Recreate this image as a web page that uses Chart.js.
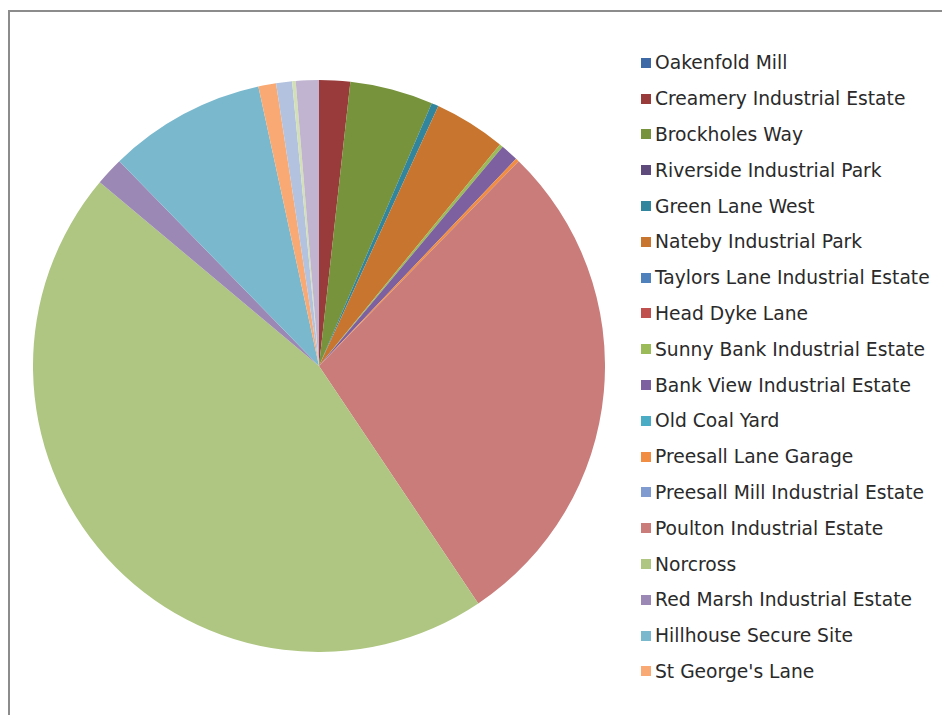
<!DOCTYPE html>
<html>
<head>
<meta charset="utf-8">
<script src="https://cdn.jsdelivr.net/npm/chart.js@4/dist/chart.umd.min.js"></script>
<style>
  html, body { margin: 0; padding: 0; background: #fff; overflow: hidden; }
  body { width: 942px; height: 715px; position: relative; }
  #frame {
    position: absolute; left: 8px; top: 10px;
    width: 1000px; height: 800px;
    border: 2px solid #8c8c8c; box-sizing: border-box;
  }
  #pieBox { position: absolute; left: 33px; top: 80px; width: 572px; height: 572px; }
  #legend {
    position: absolute; left: 641px; top: 45px;
    font-family: "DejaVu Sans", Verdana, sans-serif; font-size: 18.7px; color: #2a2a2a;
  }
  #legend .item { height: 35.8px; display: flex; align-items: center; white-space: nowrap; }
  #legend .swatch { width: 10px; height: 10px; margin-right: 4px; flex: none; }
</style>
</head>
<body>
<div id="frame"></div>
<div id="pieBox"><canvas id="siteChart"></canvas></div>
<div id="legend"></div>
<script>
// sites, in drawing order (clockwise from 12 o'clock)
const sites = [
  'Oakenfold Mill', 'Creamery Industrial Estate', 'Brockholes Way',
  'Riverside Industrial Park', 'Green Lane West', 'Nateby Industrial Park',
  'Taylors Lane Industrial Estate', 'Head Dyke Lane', 'Sunny Bank Industrial Estate',
  'Bank View Industrial Estate', 'Old Coal Yard', 'Preesall Lane Garage',
  'Preesall Mill Industrial Estate', 'Poulton Industrial Estate', 'Norcross',
  'Red Marsh Industrial Estate', 'Hillhouse Secure Site', "St George's Lane",
  'Site 19', 'Site 20', 'Site 21'
];

// share of total per site (%)
const shares = [
  0, 1.75, 4.7,
  0, 0.4, 4.05,
  0, 0, 0.2,
  1.0, 0, 0.2,
  0, 28.3, 45.5,
  1.6, 8.9, 1.0,
  0.9, 0.2, 1.3
];

const sliceColors = [
  '#3d6aa6', '#983b3a', '#77933c',
  '#5f4a7c', '#31859c', '#c7752f',
  '#4f81bd', '#c0504d', '#9bbb59',
  '#7d609f', '#4bacc6', '#f08d42',
  '#7f9bcf', '#c97c7a', '#aec681',
  '#9c88b5', '#7ab8ce', '#f9aa74',
  '#b3c2de', '#d3e0b5', '#c0b4d0'
];

// only the first 18 entries fit in the legend
const LEGEND_COUNT = 18;

function buildLegend() {
  const box = document.getElementById('legend');
  sites.slice(0, LEGEND_COUNT).forEach((name, i) => {
    const row = document.createElement('div');
    row.className = 'item';
    const sw = document.createElement('span');
    sw.className = 'swatch';
    sw.style.background = sliceColors[i];
    const txt = document.createElement('span');
    txt.textContent = name;
    row.appendChild(sw);
    row.appendChild(txt);
    box.appendChild(row);
  });
}

function initChart() {
  const ctx = document.getElementById('siteChart').getContext('2d');
  new Chart(ctx, {
    type: 'pie',
    data: {
      labels: sites,
      datasets: [{
        data: shares,
        backgroundColor: sliceColors,
        borderWidth: 0,
        hoverOffset: 0
      }]
    },
    options: {
      responsive: true,
      maintainAspectRatio: false,
      animation: false,
      layout: { padding: 0 },
      plugins: {
        legend: { display: false },
        tooltip: { enabled: false }
      }
    }
  });
}

buildLegend();
initChart();
</script>
</body>
</html>
